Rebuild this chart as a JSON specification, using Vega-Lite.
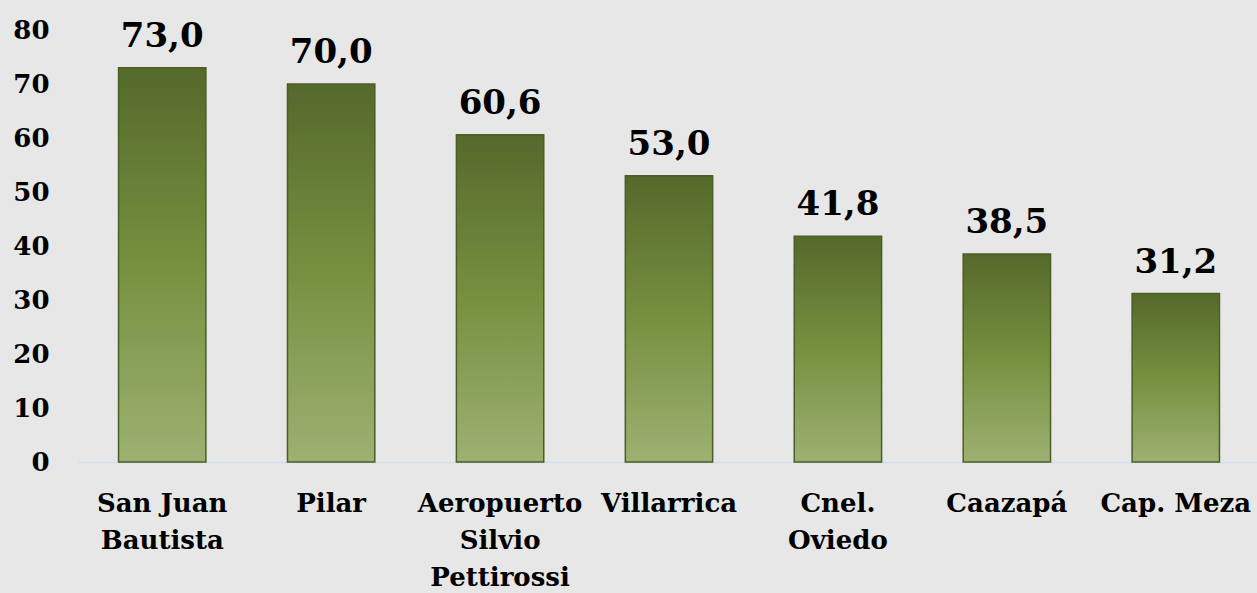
{
  "$schema": "https://vega.github.io/schema/vega-lite/v6.json",
  "width": 1182,
  "height": 432,
  "autosize": "none",
  "padding": {"left": 78, "top": 30, "right": 0, "bottom": 131},
  "background": "#e6e7e6",
  "config": {
    "view": {"stroke": null},
    "locale": {"number": {"decimal": ",", "thousands": ".", "grouping": [3], "currency": ["", ""]}},
    "font": "DejaVu Serif"
  },
  "data": {
    "values": [
      {"estacion": "San Juan Bautista", "valor": 73.0},
      {"estacion": "Pilar", "valor": 70.0},
      {"estacion": "Aeropuerto Silvio Pettirossi", "valor": 60.6},
      {"estacion": "Villarrica", "valor": 53.0},
      {"estacion": "Cnel. Oviedo", "valor": 41.8},
      {"estacion": "Caazapá", "valor": 38.5},
      {"estacion": "Cap. Meza", "valor": 31.2}
    ]
  },
  "encoding": {
    "x": {
      "field": "estacion",
      "type": "nominal",
      "sort": null,
      "scale": {"paddingInner": 0.483, "paddingOuter": 0.24},
      "axis": {
        "title": null,
        "labelAngle": 0,
        "ticks": false,
        "domainColor": "#d3dfec",
        "domainWidth": 1.5,
        "labelFont": "DejaVu Serif",
        "labelFontSize": 26,
        "labelFontWeight": "bold",
        "labelColor": "#000000",
        "labelPadding": 28,
        "labelLineHeight": 37,
        "labelBaseline": "top",
        "labelLimit": 400,
        "labelExpr": "datum.label == 'San Juan Bautista' ? ['San Juan', 'Bautista'] : (datum.label == 'Cap. Meza' ? datum.label : split(datum.label, ' '))"
      }
    },
    "y": {
      "field": "valor",
      "type": "quantitative",
      "scale": {"domain": [0, 80], "nice": false},
      "axis": {
        "title": null,
        "values": [0, 10, 20, 30, 40, 50, 60, 70, 80],
        "domain": false,
        "ticks": false,
        "grid": false,
        "labelFont": "DejaVu Serif",
        "labelFontSize": 26,
        "labelFontWeight": "bold",
        "labelColor": "#000000",
        "labelPadding": 29
      }
    }
  },
  "layer": [
    {
      "mark": {
        "type": "bar",
        "stroke": "#4b5e25",
        "strokeWidth": 1.5,
        "fill": {
          "gradient": "linear",
          "x1": 0, "y1": 0, "x2": 0, "y2": 1,
          "stops": [
            {"offset": 0, "color": "#55692b"},
            {"offset": 0.5, "color": "#76903f"},
            {"offset": 1, "color": "#9db172"}
          ]
        }
      }
    },
    {
      "mark": {
        "type": "text",
        "baseline": "alphabetic",
        "dy": -21,
        "font": "DejaVu Serif",
        "fontSize": 34,
        "fontWeight": "bold",
        "color": "#000000"
      },
      "encoding": {
        "text": {"field": "valor", "type": "quantitative", "format": ".1f"}
      }
    }
  ]
}
